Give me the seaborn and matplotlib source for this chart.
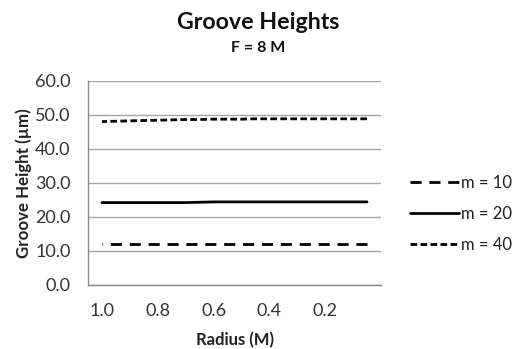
import numpy as np
import pandas as pd
import matplotlib
matplotlib.use("Agg")
import matplotlib.pyplot as plt
import seaborn as sns

radius = [1.0, 0.95, 0.9, 0.85, 0.8, 0.75, 0.7, 0.65, 0.6, 0.55,
          0.5, 0.45, 0.4, 0.35, 0.3, 0.25, 0.2, 0.15, 0.1, 0.05]
m10 = [12.1, 12.1, 12.1, 12.1, 12.1, 12.1, 12.1, 12.1, 12.1, 12.1,
       12.1, 12.1, 12.1, 12.1, 12.1, 12.1, 12.1, 12.1, 12.1, 12.1]
m20 = [24.2, 24.2, 24.2, 24.2, 24.2, 24.2, 24.2, 24.3, 24.4, 24.4,
       24.4, 24.4, 24.4, 24.4, 24.4, 24.4, 24.4, 24.4, 24.4, 24.4]
m40 = [48.0, 48.1, 48.2, 48.3, 48.4, 48.5, 48.6, 48.6, 48.7, 48.7,
       48.7, 48.8, 48.8, 48.8, 48.8, 48.8, 48.8, 48.8, 48.8, 48.8]
series_names = ["m = 10", "m = 20", "m = 40"]
x_ticks = [1.0, 0.8, 0.6, 0.4, 0.2]
y_ticks = [0, 10, 20, 30, 40, 50, 60]

df = pd.concat([
    pd.DataFrame({"Radius": radius, "Height": vals, "Series": name})
    for name, vals in zip(series_names, [m10, m20, m40])
])

sns.set_theme(style="white")
plt.rcParams["font.family"] = ["Lato", "DejaVu Sans"]

fig = plt.figure(figsize=(5.19, 3.49), dpi=100)
ax = fig.add_axes([0.1696, 0.1834, 0.5645, 0.5854])

dashes = {"m = 10": (4.0, 2.8), "m = 20": "", "m = 40": (2.4, 1.2)}
palette = {n: "black" for n in series_names}
sns.lineplot(data=df, x="Radius", y="Height", hue="Series", style="Series",
             dashes=dashes, palette=palette, linewidth=2.0, ax=ax,
             legend=True)

ax.set_xlim(1.05, 0.0)
ax.set_ylim(0, 60)
ax.set_xticks(x_ticks)
ax.set_xticklabels([f"{v:.1f}" for v in x_ticks])
ax.set_yticks(y_ticks)
ax.set_yticklabels([f"{v:.1f}" for v in y_ticks])
ax.tick_params(axis="both", length=0, labelsize=13, colors="#333333")
ax.tick_params(axis="y", pad=12.5)
ax.tick_params(axis="x", pad=13)
ax.grid(axis="y", color="#a6a6a6", linewidth=1.0)
ax.set_axisbelow(True)
for s in ["top", "right"]:
    ax.spines[s].set_visible(False)
for s in ["left", "bottom"]:
    ax.spines[s].set_color("#8c8c8c")
    ax.spines[s].set_linewidth(1.0)

ax.set_xlabel("Radius (M)", fontsize=12, fontweight="bold", color="#222222", labelpad=9)
ax.set_ylabel("Groove Height (µm)", fontsize=12.2, fontweight="bold", color="#222222", labelpad=2)

fig.text(0.497, 0.935, "Groove Heights", ha="center", va="center",
         fontsize=16.7, fontweight="bold", color="#111111")
fig.text(0.497, 0.862, "F = 8 M", ha="center", va="center",
         fontsize=11.5, fontweight="bold", color="#111111")

handles, labels = ax.get_legend_handles_labels()
ax.legend(handles, labels, loc="center left", bbox_to_anchor=(1.076, 0.3475),
          frameon=False, fontsize=12, handlelength=2.95, handletextpad=0.1,
          labelspacing=0.9, borderaxespad=0)
for t in ax.get_legend().get_texts():
    t.set_color("#222222")

fig.savefig("out.png", dpi=100, facecolor="white")
